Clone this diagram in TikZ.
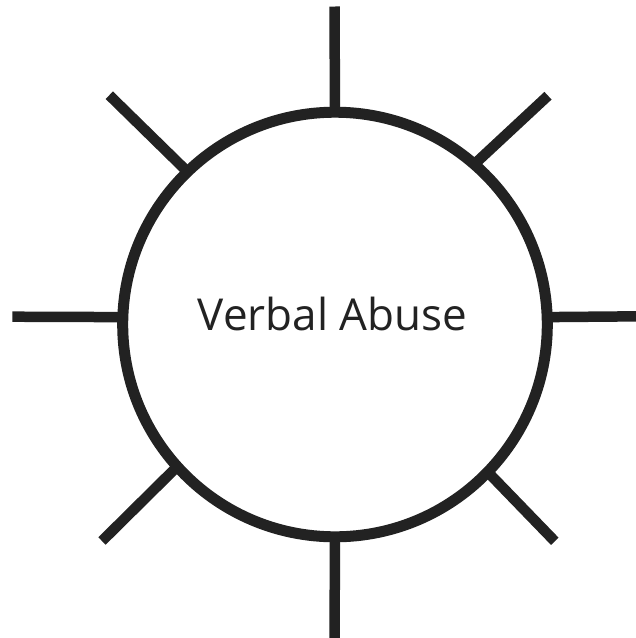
\documentclass[tikz,border=0pt]{standalone}
\usepackage{fontspec}
\setmainfont{Open Sans}
\usepackage{tikz}
\usetikzlibrary{positioning}
\definecolor{ink}{HTML}{222222}
\tikzset{
  hub/.style={circle,draw=ink,line width=11pt,minimum size=424.6pt,
    inner sep=0pt,outer sep=0pt},
  ray/.style={draw=ink,line width=10.5pt},
  hublbl/.style={text=ink,font=\fontsize{44}{50}\selectfont,inner sep=0pt,
    anchor=base},
}
\begin{document}
\begin{tikzpicture}[x=1pt,y=-1pt]
  \useasboundingbox (0,0) rectangle (636,638);
  \node[hub] (hub) at (335,324.5) {};
  \node[hublbl] (lbl) at (332.7,330.7) {Verbal Abuse};
  \foreach \nm/\px/\py/\ang in {n/334.5/6.5/90,ne/548/95.7/49,e/640/316.3/2,
      se/554.8/541.3/316,s/334.5/642/270,sw/102/541/222,w/12.3/316.7/178,
      nw/109.3/95.2/134} {
    \coordinate (r-\nm) at (\px,\py);
    \draw[ray] (r-\nm) -- (hub.\ang);
  }
\end{tikzpicture}
\end{document}
